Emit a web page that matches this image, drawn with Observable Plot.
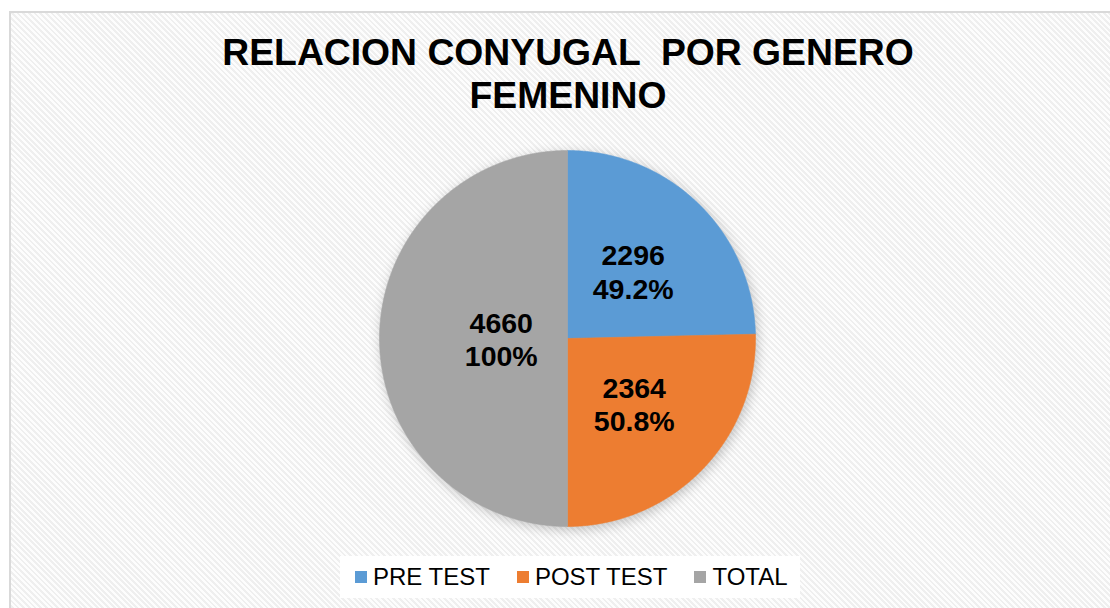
<!DOCTYPE html>
<html>
<head>
<meta charset="utf-8">
<script src="https://cdn.jsdelivr.net/npm/d3@7"></script>
<script src="https://cdn.jsdelivr.net/npm/@observablehq/plot@0.6"></script>
<style>
html, body { margin:0; padding:0; width:1110px; height:608px; overflow:hidden; background:#fff; font-family:"Liberation Sans", Arial, sans-serif; }
#frame { position:absolute; left:9px; top:11px; width:1120px; height:620px; border-top:2px solid #d9d9d9; border-left:2px solid #d9d9d9;
  background: repeating-linear-gradient(45deg, #fdfdfd 0px, #fdfdfd 2px, #efefef 2px, #efefef 4px); }
#title { position:absolute; left:168px; width:800px; top:31px; text-align:center; font-weight:bold; font-size:37.3px; line-height:43px; white-space:pre; color:#000; }
#chart { position:absolute; left:0; top:0; }
#chart g[aria-label="line"] { filter: drop-shadow(2px 3px 6px rgba(0,0,0,0.22)); }
#legend { position:absolute; left:340px; width:460px; top:556px; height:42px; background:#fff; display:flex; align-items:center; padding-left:15px; box-sizing:border-box; }
.item { display:flex; align-items:center; margin-right:27px; font-size:24px; color:#000; white-space:pre; }
.sw { width:12px; height:12px; margin-right:6px; }
</style>
</head>
<body>
<div id="frame"></div>
<div id="title"></div>
<div id="chart"></div>
<div id="legend"></div>
<script>
const titleLines = ["RELACION CONYUGAL  POR GENERO", "FEMENINO"];
const categories = ["PRE TEST", "POST TEST", "TOTAL"];
const values = [2296, 2364, 4660];
const percentLabels = ["49.2%", "50.8%", "100%"];
const colors = ["#5B9BD5", "#ED7D31", "#A5A5A5"];

document.getElementById("title").textContent = titleLines.join("\n");

const rows = categories.map((c, i) => ({category: c, value: values[i], pct: percentLabels[i]}));
const arcs = d3.pie().sort(null).value(d => d.value)(rows);

// polygon outline of each slice (angles from d3.pie: 0 at top, clockwise)
const slicePts = [];
for (const a of arcs) {
  const cat = a.data.category;
  slicePts.push({category: cat, x: 0, y: 0});
  const n = Math.max(2, Math.ceil((a.endAngle - a.startAngle) / (Math.PI / 720)));
  for (let k = 0; k <= n; k++) {
    const t = a.startAngle + (a.endAngle - a.startAngle) * k / n;
    slicePts.push({category: cat, x: Math.sin(t), y: Math.cos(t)});
  }
  slicePts.push({category: cat, x: 0, y: 0});
}

// labels at a scaled sector-area centroid
const labels = arcs.map(a => {
  const m = (a.startAngle + a.endAngle) / 2;
  const half = (a.endAngle - a.startAngle) / 2;
  const r = 0.83 * 2 * Math.sin(half) / (3 * half);
  return {x: r * Math.sin(m), y: r * Math.cos(m), text: a.data.value + "\n" + a.data.pct};
});

const chart = Plot.plot({
  width: 1110,
  height: 608,
  margin: 0,
  style: {background: "transparent", overflow: "visible"},
  x: {domain: [-1, 1], range: [379, 755], axis: null},
  y: {domain: [-1, 1], range: [526, 150], axis: null},
  color: {domain: categories, range: colors},
  marks: [
    Plot.line(slicePts, {x: "x", y: "y", z: "category", fill: "category", stroke: "category", strokeWidth: 0.6, curve: "linear"}),
    Plot.text(labels, {x: "x", y: "y", text: "text", fontSize: 28.5, fontWeight: "bold", fill: "#000", lineHeight: 1.17, fontFamily: "Liberation Sans, Arial, sans-serif"})
  ]
});
document.getElementById("chart").appendChild(chart);

const legend = document.getElementById("legend");
categories.forEach((c, i) => {
  const it = document.createElement("div");
  it.className = "item";
  const sw = document.createElement("div");
  sw.className = "sw";
  sw.style.background = colors[i];
  const tx = document.createElement("span");
  tx.textContent = c;
  it.appendChild(sw); it.appendChild(tx);
  legend.appendChild(it);
});
</script>
</body>
</html>
